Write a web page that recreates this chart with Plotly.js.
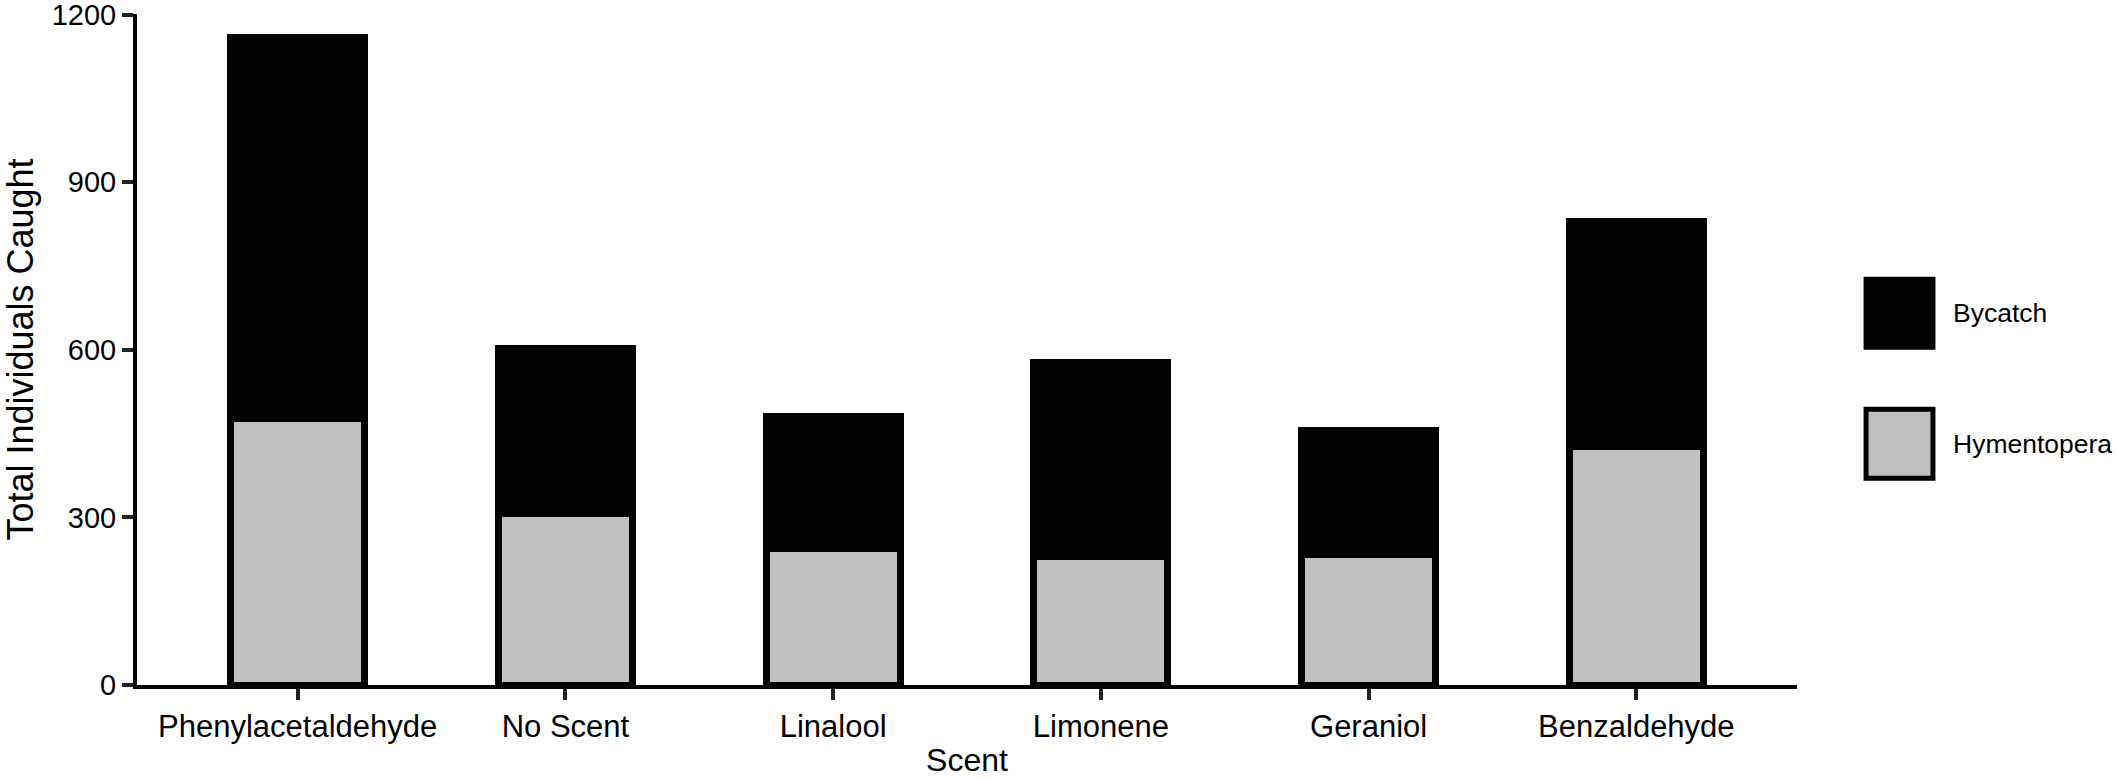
<!DOCTYPE html>
<html>
<head>
<meta charset="utf-8">
<script src="https://cdn.plot.ly/plotly-3.0.1.min.js"></script>
<style>html,body{margin:0;padding:0;background:#fff;}#chart{width:2117px;height:778px;}</style>
</head>
<body>
<div id="chart"></div>
<script>
const scents = ["Phenylacetaldehyde", "No Scent", "Linalool", "Limonene", "Geraniol", "Benzaldehyde"];
const hymenoptera = [477, 307, 245, 230, 233, 426];
const bycatch = [682, 296, 236, 348, 223, 404];
const yTicks = [0, 300, 600, 900, 1200];
const seriesNames = ["Bycatch", "Hymentopera"];
const seriesColors = ["#000000", "#c0c0c0"];

const FONT = "Liberation Sans, Arial, sans-serif";

const traces = [
  {
    type: "bar", name: seriesNames[1], x: scents, y: hymenoptera,
    width: 0.5,
    marker: {color: seriesColors[1], line: {color: "#000", width: 7}},
    showlegend: false
  },
  {
    type: "bar", name: seriesNames[0], x: scents, y: bycatch,
    width: 0.5,
    marker: {color: seriesColors[0], line: {color: "#000", width: 7}},
    showlegend: false
  }
];

// legend drawn as paper-positioned swatches + text (large swatches as in the reference)
const legendY = [[0.5034, 0.6046], [0.3083, 0.411]];
const shapes = [];
const annotations = [];
seriesNames.forEach((n, i) => {
  shapes.push({
    type: "rect", xref: "paper", yref: "paper",
    x0: 1.0416, x1: 1.0819, y0: legendY[i][0], y1: legendY[i][1],
    fillcolor: seriesColors[i], line: {color: "#000", width: 5}
  });
  annotations.push({
    xref: "paper", yref: "paper", x: 1.0925, y: (legendY[i][0] + legendY[i][1]) / 2,
    xanchor: "left", yanchor: "middle", showarrow: false,
    text: n, font: {family: FONT, size: 26.5, color: "#000"}
  });
});

const layout = {
  width: 2117, height: 778,
  margin: {l: 137, r: 320, t: 14, b: 93},
  paper_bgcolor: "#fff", plot_bgcolor: "#fff",
  barmode: "stack",
  font: {family: FONT, color: "#000"},
  xaxis: {
    type: "category", range: [-0.6, 5.6],
    showline: true, linecolor: "#000", linewidth: 4,
    ticks: "outside", ticklen: 11, tickwidth: 4, tickcolor: "#222",
    showgrid: false, zeroline: false,
    tickfont: {family: FONT, size: 31, color: "#000"},
    title: {text: "Scent", font: {family: FONT, size: 32, color: "#000"}, standoff: 12}
  },
  yaxis: {
    range: [0, 1201], tickvals: yTicks, ticktext: yTicks.map(String),
    showline: true, linecolor: "#000", linewidth: 4,
    ticks: "outside", ticklen: 11, tickwidth: 4, tickcolor: "#222",
    showgrid: false, zeroline: false, ticklabeloverflow: "allow",
    tickfont: {family: FONT, size: 29, color: "#000"},
    title: {text: "Total Individuals Caught", font: {family: FONT, size: 36, color: "#000"}, standoff: 12}
  },
  shapes: shapes,
  annotations: annotations
};

Plotly.newPlot("chart", traces, layout, {displayModeBar: false, staticPlot: true});
</script>
</body>
</html>
